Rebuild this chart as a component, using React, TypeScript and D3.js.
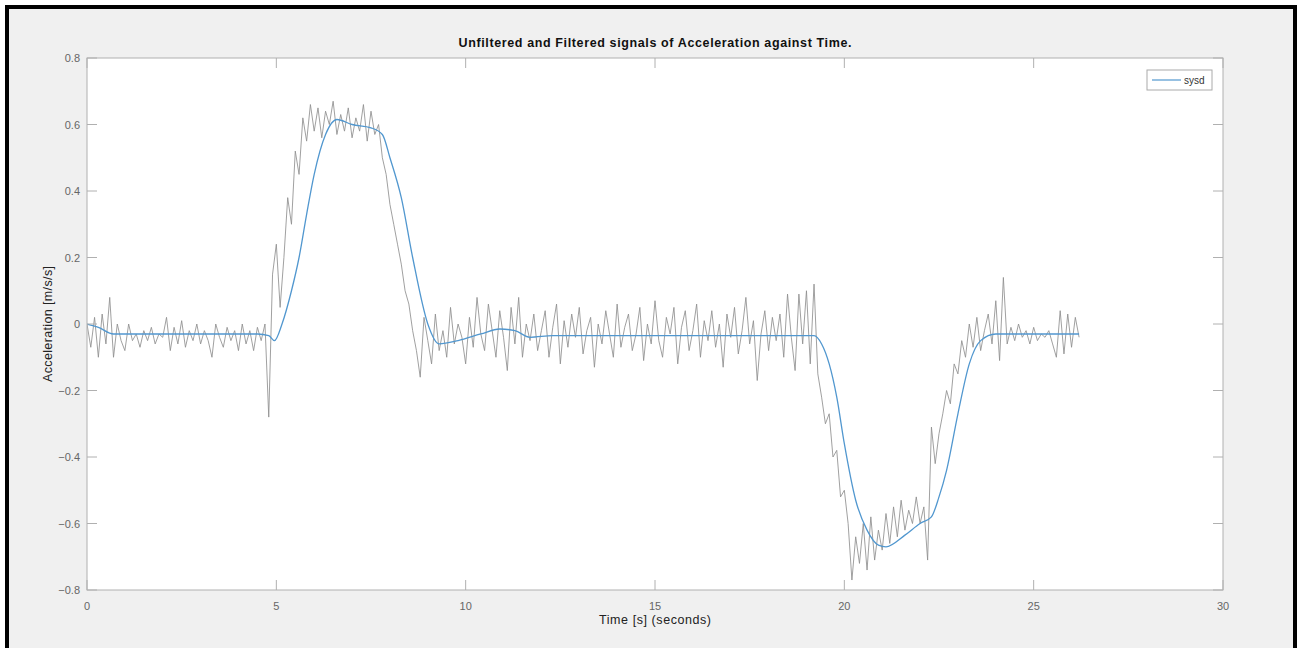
import React, { useEffect, useRef } from 'react';
import * as d3 from 'd3';

// raw accelerometer samples, 0.1 s apart starting at t = 0
const rawStep = 0.1;
const rawValues = [
  0.0, -0.07, 0.02, -0.1, 0.03, -0.06, 0.08, -0.1, 0.0, -0.05,
  -0.08, 0.0, -0.05, -0.03, -0.07, -0.02, -0.05, -0.01, -0.06, -0.03,
  -0.04, 0.02, -0.08, -0.01, -0.06, 0.01, -0.07, -0.02, -0.05, 0.0,
  -0.06, -0.02, -0.05, -0.1, 0.0, -0.04, -0.07, -0.01, -0.05, -0.02,
  -0.08, 0.0, -0.06, -0.02, -0.08, -0.01, -0.05, 0.0, -0.28, 0.15,
  0.24, 0.05, 0.2, 0.38, 0.3, 0.52, 0.45, 0.62, 0.55, 0.66,
  0.58, 0.65, 0.56, 0.64, 0.6, 0.67, 0.57, 0.63, 0.58, 0.65,
  0.56, 0.62, 0.58, 0.66, 0.55, 0.64, 0.57, 0.6, 0.5, 0.45,
  0.36, 0.3, 0.24, 0.18, 0.1, 0.06, -0.02, -0.08, -0.16, 0.02,
  -0.05, -0.12, 0.03, -0.08, -0.02, -0.1, 0.05, -0.06, 0.0, -0.04,
  -0.12, 0.02, -0.07, 0.08, -0.03, -0.08, 0.06, -0.02, -0.1, 0.04,
  -0.04, -0.14, 0.05, -0.06, 0.08, -0.1, 0.0, -0.05, 0.03, -0.08,
  -0.02, 0.04, -0.1, -0.01, 0.06, -0.12, 0.01, -0.07, 0.03, -0.04,
  0.05, -0.09, -0.02, 0.02, -0.13, 0.0, -0.06, 0.04, -0.03, -0.1,
  0.06, -0.07, -0.01, 0.03, -0.08, -0.03, 0.05, -0.11, 0.0, -0.06,
  0.07, -0.05, -0.1, 0.02, -0.03, 0.05, -0.12, -0.01, 0.04, -0.08,
  -0.02, 0.06, -0.1, 0.01, -0.05, 0.04, -0.07, 0.0, -0.13, 0.03,
  -0.04, 0.05, -0.09, -0.02, 0.08, -0.06, 0.01, -0.17, -0.03, 0.04,
  -0.08, 0.02, -0.05, 0.03, -0.1, 0.09, -0.04, -0.14, 0.09, -0.06,
  0.1, -0.12, 0.12, -0.15, -0.22, -0.3, -0.27, -0.4, -0.38, -0.52,
  -0.5, -0.6, -0.77, -0.64, -0.72, -0.6, -0.74, -0.58, -0.71, -0.62,
  -0.68, -0.57, -0.66, -0.55, -0.64, -0.53, -0.62, -0.56, -0.6, -0.52,
  -0.6, -0.55, -0.71, -0.31, -0.42, -0.33, -0.27, -0.2, -0.24, -0.12,
  -0.15, -0.05, -0.1, 0.0, -0.07, 0.02, -0.08, -0.02, 0.03, -0.06,
  0.07, -0.11, 0.14, -0.06, -0.01, -0.05, 0.0, -0.04, -0.02, -0.06,
  -0.01, -0.05, -0.03, -0.04, -0.02, -0.06, -0.1, 0.04, -0.09, 0.03,
  -0.07, 0.02, -0.04
];

// filtered output (sysd), read at irregular times
const filteredTimes = [
  0, 0.3, 0.7, 1.5, 3, 4.5, 4.8, 4.95, 5.15, 5.4, 5.6, 5.8, 6.0, 6.3, 6.6,
  7.0, 7.5, 7.8, 8.0, 8.3, 8.6, 9.0, 9.3, 9.8, 10.4, 10.9, 11.3, 11.7, 12.3,
  15, 18, 19.2, 19.4, 19.6, 19.8, 20.0, 20.3, 20.6, 20.9, 21.1, 21.6, 22.0,
  22.3, 22.5, 22.7, 23.0, 23.3, 23.6, 24.0, 25, 26.2
];
const filteredValues = [
  0, -0.01, -0.03, -0.03, -0.03, -0.03, -0.035, -0.05, 0.0, 0.1, 0.2, 0.33,
  0.45, 0.57, 0.615, 0.6, 0.59, 0.57, 0.5, 0.38, 0.2, 0.0, -0.06, -0.05,
  -0.03, -0.015, -0.02, -0.04, -0.035, -0.035, -0.035, -0.035, -0.06, -0.12,
  -0.22, -0.36, -0.53, -0.62, -0.665, -0.67, -0.635, -0.6, -0.58, -0.52,
  -0.44, -0.27, -0.12, -0.05, -0.03, -0.03, -0.03
];

const xTicks = [0, 5, 10, 15, 20, 25, 30];
const yTicks = [-0.8, -0.6, -0.4, -0.2, 0, 0.2, 0.4, 0.6, 0.8];

const App = () => {
  const ref = useRef(null);

  useEffect(() => {
    const W = 1298, H = 648;
    const plot = { left: 87, top: 58, right: 1223, bottom: 590 };
    const font = 'Liberation Sans, Arial, sans-serif';
    const blue = '#5197cf';

    d3.select(ref.current).selectAll('*').remove();

    const svg = d3.select(ref.current)
      .append('svg')
      .attr('width', W)
      .attr('height', H)
      .style('position', 'absolute')
      .style('left', 0)
      .style('top', 0)
      .style('font-family', font);

    // figure background + black frame
    svg.append('rect').attr('width', W).attr('height', H).attr('fill', '#fff');
    svg.append('rect')
      .attr('x', 7).attr('y', 7)
      .attr('width', 1288).attr('height', 660)
      .attr('fill', '#f0f0f0')
      .attr('stroke', '#000')
      .attr('stroke-width', 4);

    const x = d3.scaleLinear().domain([0, 30]).range([plot.left, plot.right]);
    const y = d3.scaleLinear().domain([-0.8, 0.8]).range([plot.bottom, plot.top]);

    svg.append('rect')
      .attr('x', plot.left).attr('y', plot.top)
      .attr('width', plot.right - plot.left)
      .attr('height', plot.bottom - plot.top)
      .attr('fill', '#fff');

    svg.append('clipPath').attr('id', 'plotclip')
      .append('rect')
      .attr('x', plot.left).attr('y', plot.top)
      .attr('width', plot.right - plot.left)
      .attr('height', plot.bottom - plot.top);

    const g = svg.append('g').attr('clip-path', 'url(#plotclip)');

    const raw = rawValues.map((v, i) => [i * rawStep, v]);
    const filtered = filteredTimes.map((t, i) => [t, filteredValues[i]]);

    g.append('path')
      .datum(raw)
      .attr('fill', 'none')
      .attr('stroke', '#8f8f8f')
      .attr('stroke-opacity', 0.85)
      .attr('stroke-width', 1)
      .attr('d', d3.line().x(d => x(d[0])).y(d => y(d[1])));

    g.append('path')
      .datum(filtered)
      .attr('fill', 'none')
      .attr('stroke', blue)
      .attr('stroke-width', 1.3)
      .attr('d', d3.line().curve(d3.curveMonotoneX).x(d => x(d[0])).y(d => y(d[1])));

    // axes box and ticks (matlab style, ticks inward on both sides)
    const axisColor = '#b0b0b0';
    const box = svg.append('g');
    box.append('rect')
      .attr('x', plot.left).attr('y', plot.top)
      .attr('width', plot.right - plot.left)
      .attr('height', plot.bottom - plot.top)
      .attr('fill', 'none')
      .attr('stroke', axisColor);

    const tl = 10;
    xTicks.forEach(t => {
      box.append('line').attr('x1', x(t)).attr('x2', x(t))
        .attr('y1', plot.bottom).attr('y2', plot.bottom - tl).attr('stroke', axisColor);
      box.append('line').attr('x1', x(t)).attr('x2', x(t))
        .attr('y1', plot.top).attr('y2', plot.top + tl).attr('stroke', axisColor);
      svg.append('text')
        .attr('x', x(t)).attr('y', plot.bottom + 20)
        .attr('text-anchor', 'middle')
        .attr('font-size', 11)
        .attr('fill', '#666')
        .text(t);
    });
    yTicks.forEach(t => {
      box.append('line').attr('x1', plot.left).attr('x2', plot.left + tl)
        .attr('y1', y(t)).attr('y2', y(t)).attr('stroke', axisColor);
      box.append('line').attr('x1', plot.right).attr('x2', plot.right - tl)
        .attr('y1', y(t)).attr('y2', y(t)).attr('stroke', axisColor);
      svg.append('text')
        .attr('x', plot.left - 7).attr('y', y(t) + 4)
        .attr('text-anchor', 'end')
        .attr('font-size', 11)
        .attr('fill', '#666')
        .text(t === 0 ? '0' : d3.format('.1f')(t));
    });

    // labels
    svg.append('text')
      .attr('x', (plot.left + plot.right) / 2).attr('y', 47)
      .attr('text-anchor', 'middle')
      .attr('font-size', 12.5)
      .attr('font-weight', 'bold')
      .attr('fill', '#111')
      .attr('textLength', 393)
      .attr('lengthAdjust', 'spacing')
      .text('Unfiltered and Filtered signals of Acceleration against Time.');

    svg.append('text')
      .attr('x', (plot.left + plot.right) / 2).attr('y', plot.bottom + 34)
      .attr('text-anchor', 'middle')
      .attr('font-size', 12.5)
      .attr('fill', '#222')
      .attr('textLength', 112)
      .attr('lengthAdjust', 'spacing')
      .text('Time [s] (seconds)');

    svg.append('text')
      .attr('transform', `translate(52,${(plot.top + plot.bottom) / 2}) rotate(-90)`)
      .attr('text-anchor', 'middle')
      .attr('font-size', 12.5)
      .attr('fill', '#222')
      .attr('textLength', 116)
      .attr('lengthAdjust', 'spacing')
      .text('Acceleration [m/s/s]');

    // legend
    const lg = svg.append('g').attr('transform', 'translate(1147,70)');
    lg.append('rect')
      .attr('width', 65).attr('height', 20)
      .attr('fill', '#fff')
      .attr('stroke', '#aaa');
    lg.append('line')
      .attr('x1', 5).attr('x2', 34).attr('y1', 10).attr('y2', 10)
      .attr('stroke', blue).attr('stroke-width', 1.2);
    lg.append('text')
      .attr('x', 37).attr('y', 14)
      .attr('font-size', 10)
      .attr('fill', '#333')
      .text('sysd');
  }, []);

  return <div ref={ref} />;
};

export default App;
